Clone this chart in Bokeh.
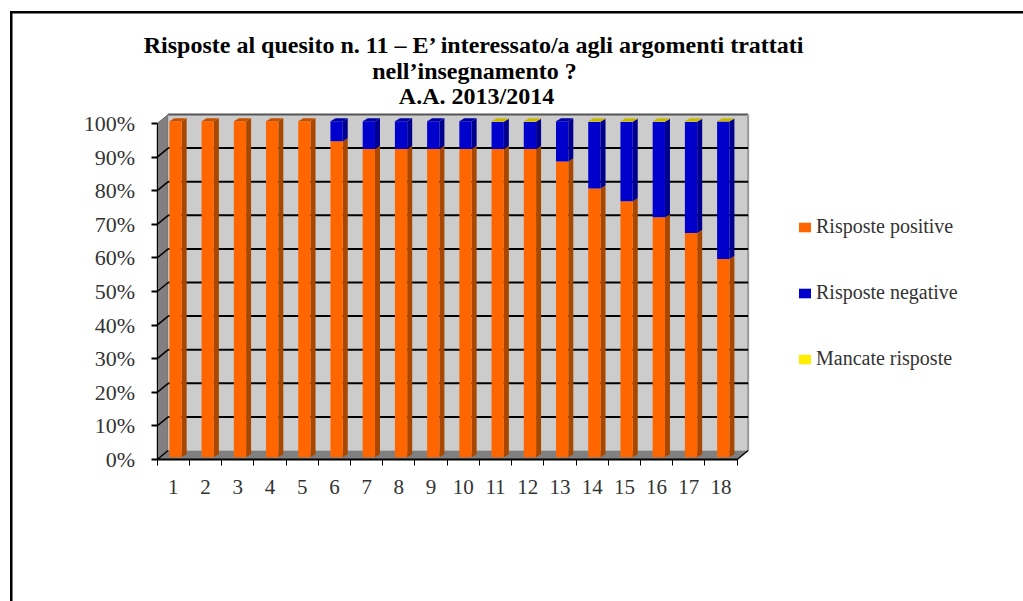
from bokeh.plotting import figure
from bokeh.models import FixedTicker, Label, Legend, LegendItem, LinearAxis, Range1d
from bokeh.embed import file_html
from bokeh.resources import INLINE

categories = [str(i) for i in range(1, 19)]
positive = [100, 100, 100, 100, 100, 94, 91.7, 91.7, 91.7, 91.7, 91.7, 91.7, 88, 80, 76.2, 71.4, 66.7, 59]
negative = [0, 0, 0, 0, 0, 6, 8.3, 8.3, 8.3, 8.3, 8.1, 8.1, 12, 19.8, 23.6, 28.4, 33.1, 40.9]
missing = [0, 0, 0, 0, 0, 0, 0, 0, 0, 0, 0.2, 0.2, 0, 0.2, 0.2, 0.2, 0.2, 0.1]
series_names = ["Risposte positive", "Risposte negative", "Mancate risposte"]
y_ticks = [0, 10, 20, 30, 40, 50, 60, 70, 80, 90, 100]
title_lines = ["Risposte al quesito n. 11 \u2013 E\u2019 interessato/a agli argomenti trattati",
               "nell\u2019insegnamento ?", "A.A. 2013/2014"]

FRONT = ["#ff6600", "#0000cc", "#ffee00"]
SIDE = ["#a84800", "#00008c", "#a89c00"]
TOP = ["#c45000", "#0000a4", "#c8b800"]
SERIF = "Liberation Serif"

W, H = 1023, 601
PXX, PXY = 32.22, 3.36
FL, FB, Y0 = 80, 520, 459             # frame left, frame bottom, zero line (page pixels)
n = len(categories)
x_start = 0.5 - (156.7 - FL) / PXX
p = figure(width=W, height=H, output_backend="svg", toolbar_location=None, title=None,
           x_range=Range1d(x_start, x_start + (W - FL) / PXX),
           y_range=Range1d(-(FB - Y0) / PXY, Y0 / PXY),
           min_border_left=FL, min_border_right=0, min_border_top=0, min_border_bottom=H - FB,
           outline_line_color=None, background_fill_color=None, border_fill_color=None,
           x_axis_type=None, y_axis_type=None)
p.grid.visible = False
# frame lines of the original slide
p.styles = {
    "background": "linear-gradient(#000,#000) 10px 11px / 1013px 2.5px no-repeat,"
                  "linear-gradient(#000,#000) 10px 11px / 2.5px 590px no-repeat",
}

dx, dy = 11 / PXX, 9 / PXY            # depth of the box
bdx, bdy = 5 / PXX, 3 / PXY           # depth of a bar
ox, oy = 2.2 / PXX, 2.3 / PXY         # bar offset from the front plane
bw = 12.3 / PXX
x0, x1 = 0.5, n + 0.5

# walls and floor
p.patch([x0, x0 + dx, x0 + dx, x0], [0, dy, 100 + dy, 100], fill_color="#808080", line_color="#666666", line_width=1)
p.patch([x0 + dx, x1 + dx, x1 + dx, x0 + dx], [dy, dy, 100 + dy, 100 + dy], fill_color="#cccccc", line_color=None)
p.patch([x0, x1, x1 + dx, x0 + dx], [0, 0, dy, dy], fill_color="#808080", line_color=None)
p.segment(x0 + dx, 100 + dy, x1 + dx, 100 + dy, line_color="#555555", line_width=2)
p.segment(x1 + dx, dy, x1 + dx, 100 + dy, line_color="#999999", line_width=2)
p.segment(x0, 0, x1, 0, line_color="#000000", line_width=2)
p.segment(x1, 0, x1 + dx, dy, line_color="#000000", line_width=1.5)
p.segment(x0, 0, x0 + dx, dy, line_color="#000000", line_width=1.5)
grid = y_ticks[1:-1]
p.segment([x0 + dx] * len(grid), [g + dy for g in grid], [x1 + dx] * len(grid), [g + dy for g in grid],
          line_color="#000000", line_width=2)
p.segment([x0] * len(grid), grid, [x0 + dx] * len(grid), [g + dy for g in grid], line_color="#000000", line_width=1.5)

# bars, stacked
renderers = []
stacks = [positive, negative, missing]
base = [0.0] * n
for s, vals in enumerate(stacks):
    idx = [i for i in range(n) if vals[i] > 0]
    lefts = [i + 1 + ox - bw / 2 for i in idx]
    rights = [l + bw for l in lefts]
    bots = [base[i] + oy for i in idx]
    tops = [base[i] + vals[i] + oy for i in idx]
    p.patches([[r, r + bdx, r + bdx, r] for r in rights],
              [[b, b + bdy, t + bdy, t] for b, t in zip(bots, tops)],
              fill_color=SIDE[s], line_color=None)
    renderers.append(p.quad(left=lefts, right=rights, bottom=bots, top=tops,
                            fill_color=FRONT[s], line_color=None))
    base = [b + v for b, v in zip(base, vals)]
# cap of each bar, in the colour of its uppermost series
cap_x, cap_y, cap_c = [], [], []
for i in range(n):
    s = 2 if missing[i] > 0 else (1 if negative[i] > 0 else 0)
    l = i + 1 + ox - bw / 2
    r = l + bw
    t = base[i] + oy
    cap_x.append([l, r, r + bdx, l + bdx])
    cap_y.append([t, t, t + bdy, t + bdy])
    cap_c.append(TOP[s])
p.patches(cap_x, cap_y, fill_color=cap_c, line_color=None)

# axes
yaxis = LinearAxis(ticker=FixedTicker(ticks=y_ticks), bounds=(0, 100), fixed_location=x0,
                   major_label_overrides={t: f"{t}%" for t in y_ticks})
yaxis.major_tick_in = 0
yaxis.major_tick_out = 6
yaxis.major_tick_line_width = 2
yaxis.major_tick_line_color = "#000000"
yaxis.minor_tick_line_color = None
yaxis.axis_line_color = "#000000"
yaxis.major_label_standoff = 16
yaxis.major_label_text_font = SERIF
yaxis.major_label_text_font_size = "22px"
yaxis.major_label_text_color = "#333333"
p.add_layout(yaxis, "left")

xaxis = LinearAxis(ticker=FixedTicker(ticks=list(range(1, n + 1)),
                                      minor_ticks=[0.5 + i for i in range(n + 1)]),
                   bounds=(x0, x1), fixed_location=0,
                   major_label_overrides={i + 1: c for i, c in enumerate(categories)})
xaxis.major_tick_line_color = None
xaxis.major_tick_in = 0
xaxis.major_tick_out = 0
xaxis.minor_tick_in = 0
xaxis.minor_tick_out = 6
xaxis.minor_tick_line_color = "#000000"
xaxis.axis_line_color = None
xaxis.major_label_standoff = 14
xaxis.major_label_text_font = SERIF
xaxis.major_label_text_font_size = "21px"
xaxis.major_label_text_color = "#333333"
p.add_layout(xaxis, "below")

# legend
legend = Legend(items=[LegendItem(label=series_names[i], renderers=[renderers[i]]) for i in range(3)],
                location=(797 - FL, 150), orientation="vertical", border_line_color=None,
                background_fill_color=None, background_fill_alpha=0, margin=0, padding=0,
                glyph_width=15, glyph_height=12, label_height=20, label_standoff=4, spacing=43,
                label_text_font=SERIF, label_text_font_size="20px", label_text_color="#333333")
p.add_layout(legend, "center")

# title
for text, cx, cy in zip(title_lines, [474, 474, 476], [44, 70, 95]):
    p.add_layout(Label(x=cx, y=cy, x_units="canvas", y_units="canvas", text=text, text_align="center",
                       text_baseline="middle", text_font=SERIF, text_font_style="bold",
                       text_font_size="24px", text_color="#000000"))

open("out.html", "w").write(file_html(p, INLINE))
